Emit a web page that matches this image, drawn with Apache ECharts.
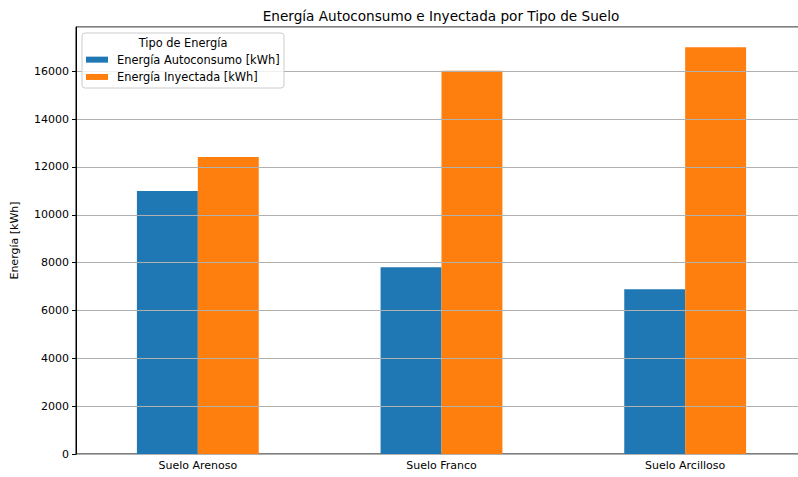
<!DOCTYPE html>
<html>
<head>
<meta charset="utf-8">
<script src="https://cdn.jsdelivr.net/npm/echarts@6/dist/echarts.min.js"></script>
<style>html,body{margin:0;padding:0;background:#fff;overflow:hidden;width:798px;height:477px}#c{width:807px;height:477px}</style>
</head>
<body>
<div id="c"></div>
<script>
const categories = ['Suelo Arenoso', 'Suelo Franco', 'Suelo Arcilloso'];
const autoconsumo = [10990, 7810, 6890];
const inyectada = [12420, 16020, 17000];
const seriesNames = ['Energía Autoconsumo [kWh]', 'Energía Inyectada [kWh]'];
const titleText = 'Energía Autoconsumo e Inyectada por Tipo de Suelo';
const legendTitle = 'Tipo de Energía';
const yAxisName = 'Energía [kWh]';

const font = 'DejaVu Sans';
const chart = echarts.init(document.getElementById('c'), null, {renderer: 'svg'});
chart.setOption({
  animation: false,
  backgroundColor: '#fff',
  textStyle: {fontFamily: font},
  title: {show: false},
  grid: {left: 76, top: 27, right: 0, bottom: 23, show: true, borderColor: '#000', borderWidth: 1, containLabel: false},
  legend: {
    orient: 'vertical', left: 86, top: 53, z: 10,
    itemWidth: 22, itemHeight: 6, itemGap: 4,
    padding: 0,
    icon: 'rect',
    textStyle: {fontFamily: font, fontSize: 11.4, color: '#000', lineHeight: 13.3, padding: [0, 0, 0, 4]},
    data: seriesNames
  },
  graphic: [
    {type: 'rect', z: 8, shape: {x: 82, y: 33, width: 202, height: 55, r: 3},
     style: {fill: 'rgba(255,255,255,0.8)', stroke: '#cccccc', lineWidth: 1}},
    {type: 'text', z: 9, x: 183, y: 43,
     style: {text: legendTitle, font: '11.4px "DejaVu Sans"', fill: '#000', textAlign: 'center', textVerticalAlign: 'middle'}},
    {type: 'text', z: 9, x: 441, y: 16,
     style: {text: titleText, font: '13.6px "DejaVu Sans"', fill: '#000', textAlign: 'center', textVerticalAlign: 'middle'}}
  ],
  xAxis: {
    type: 'category', data: categories,
    axisLine: {lineStyle: {color: '#000', width: 1}},
    axisTick: {alignWithLabel: true, length: 4, lineStyle: {color: '#000'}},
    axisLabel: {fontFamily: font, fontSize: 11, color: '#000', margin: 6},
    splitLine: {show: false}
  },
  yAxis: {
    type: 'value', min: 0, max: 17850, interval: 2000, z: 3,
    name: yAxisName, nameLocation: 'middle', nameRotate: 90, nameGap: 56,
    nameTextStyle: {fontFamily: font, fontSize: 11, color: '#000'},
    axisLine: {show: true, lineStyle: {color: '#000', width: 1}},
    axisTick: {show: true, length: 4, lineStyle: {color: '#000'}},
    axisLabel: {fontFamily: font, fontSize: 11, color: '#000', margin: 7, showMaxLabel: false,
      formatter: v => (v % 2000 === 0 ? String(v) : '')},
    splitLine: {show: true, lineStyle: {color: '#b0b0b0', width: 1}}
  },
  series: [
    {name: seriesNames[0], type: 'bar', data: autoconsumo, barWidth: '25%', barGap: '0%', itemStyle: {color: '#1f77b4'}},
    {name: seriesNames[1], type: 'bar', data: inyectada, barWidth: '25%', barGap: '0%', itemStyle: {color: '#ff7f0e'}}
  ]
});
</script>
</body>
</html>
